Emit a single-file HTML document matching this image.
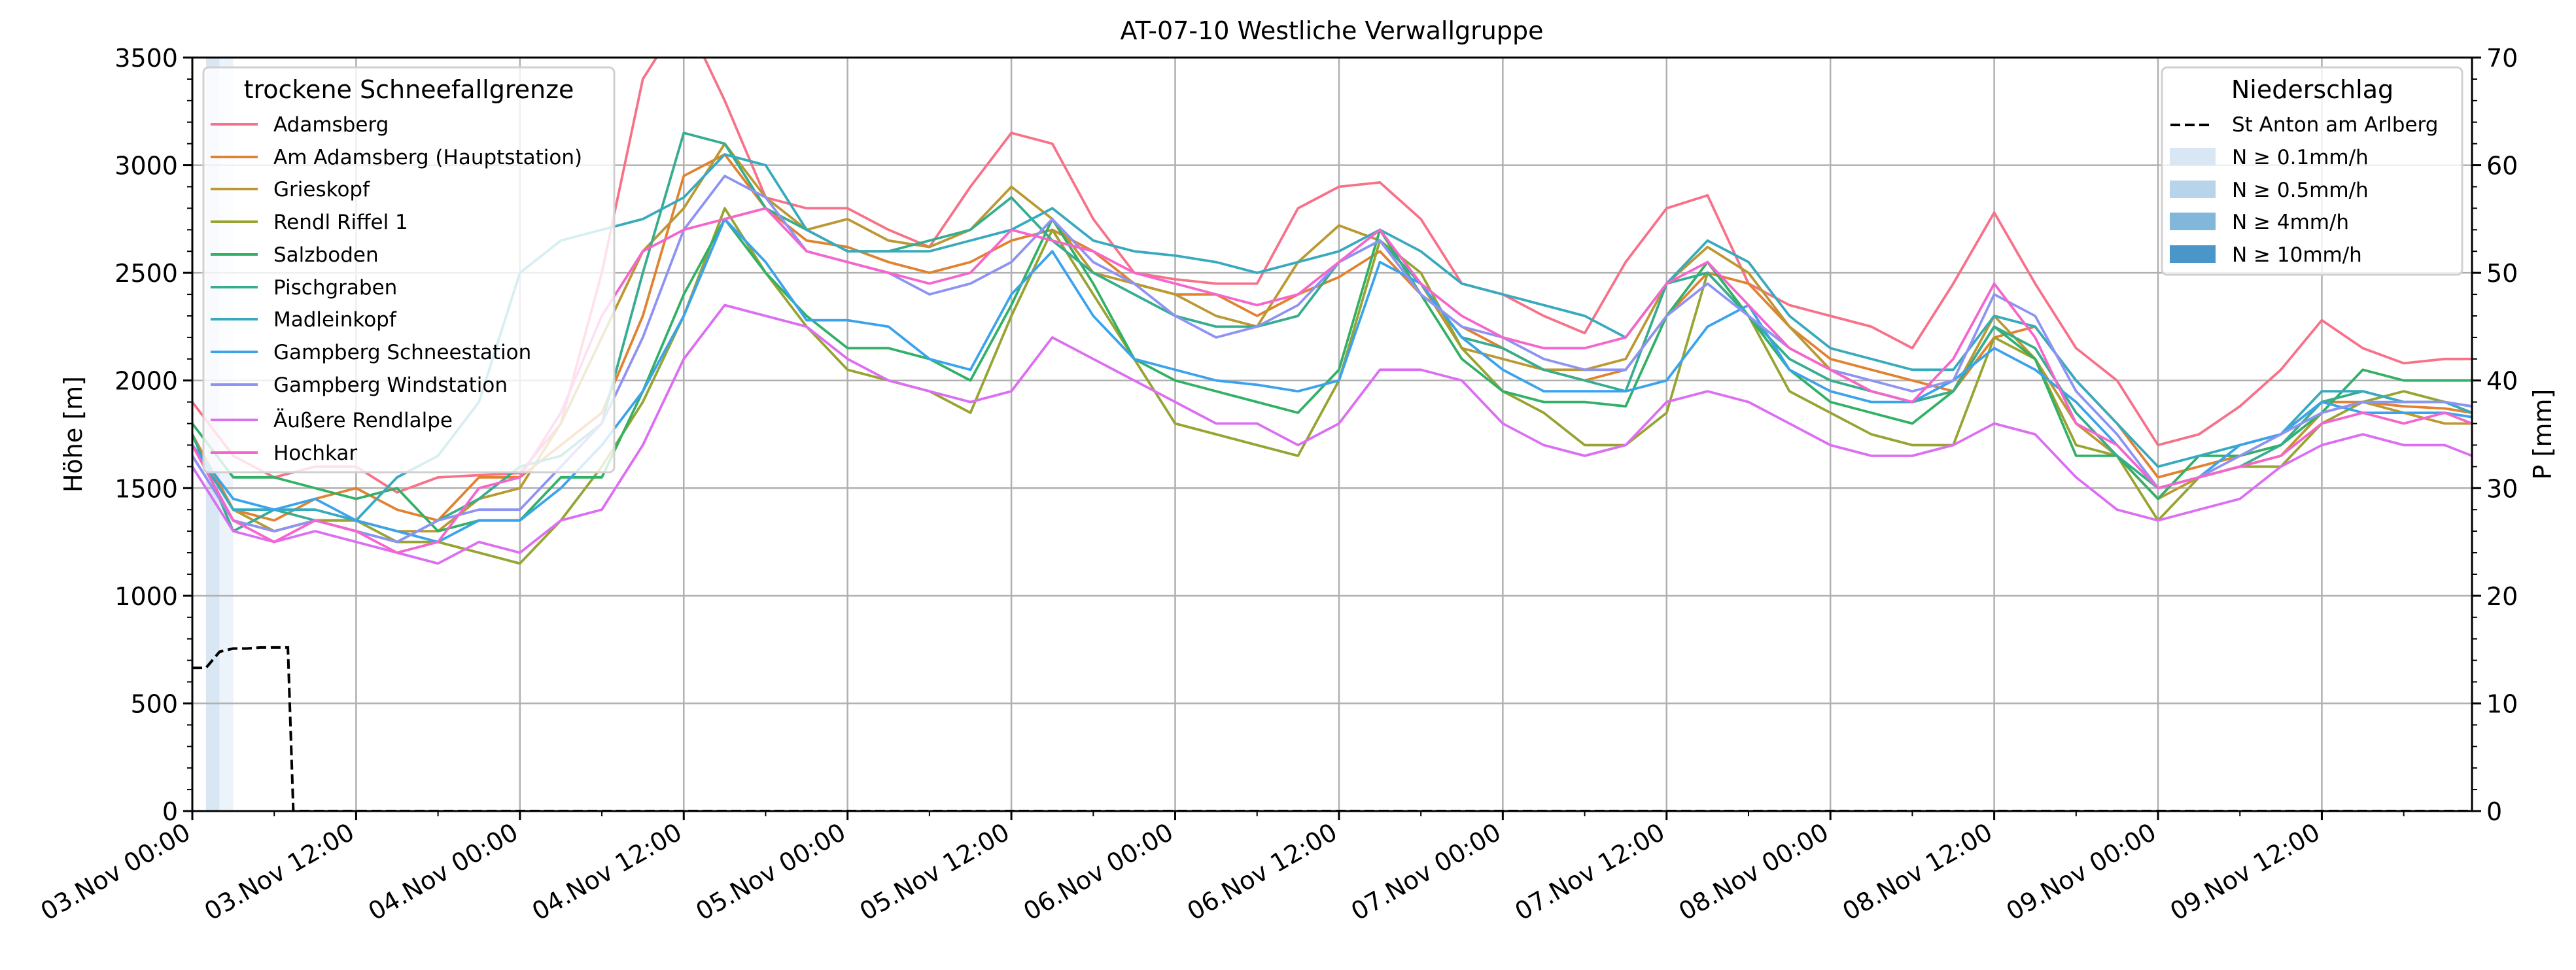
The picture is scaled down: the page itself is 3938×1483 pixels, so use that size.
<!DOCTYPE html>
<html><head><meta charset="utf-8"><style>
html,body{margin:0;padding:0;background:#fff;}
svg text{font-family:"DejaVu Sans","Liberation Sans",sans-serif;}
</style></head><body>
<svg id="chart" width="3938" height="1478" viewBox="0 0 3938 1478" xmlns="http://www.w3.org/2000/svg">
<rect width="3938" height="1478" fill="#fff"/>
<text x="2036" y="60" font-size="38" text-anchor="middle">AT-07-10 Westliche Verwallgruppe</text>
<g id="precip"></g><g id="grid"></g><g id="series"></g><g id="axes"></g><g id="legends"></g>
</svg>
<script>
const times = [0,3,6,9,12,15,18,21,24,27,30,33,36,39,42,45,48,51,54,57,60,63,66,69,72,75,78,81,84,87,90,93,96,99,102,105,108,111,114,117,120,123,126,129,132,135,138,141,144,147,150,153,156,159,162,165,167];
const seriesNames = ["Adamsberg","Am Adamsberg (Hauptstation)","Grieskopf","Rendl Riffel 1","Salzboden","Pischgraben","Madleinkopf","Gampberg Schneestation","Gampberg Windstation","Äußere Rendlalpe","Hochkar"];
const seriesColors = ["#f77189","#e0822f","#bb9832","#97a431","#32b166","#36ad8f","#38aabd","#3ba3ec","#8e93f3","#dc6ef2","#f565cc"];
const adamsberg = [1900,1650,1550,1600,1600,1480,1550,1560,1570, 1800,2500,3400,3700,3300,2850,2800,2800, 2700,2620,2900,3150,3100,2750,2500,2470, 2450,2450,2800,2900,2920,2750,2450,2400, 2300,2220,2550,2800,2860,2450,2350,2300, 2250,2150,2450,2780,2450,2150,2000,1700, 1750,1880,2050,2280,2150,2080,2100,2100];
const amAdamsberg = [1750,1400,1350,1450,1500,1400,1350,1550,1550, 1700,1850,2300,2950,3050,2800,2650,2620, 2550,2500,2550,2650,2700,2600,2450,2400, 2400,2300,2400,2480,2600,2400,2250,2150, 2050,2000,2050,2300,2500,2450,2250,2100, 2050,2000,1950,2200,2250,2000,1800,1550, 1600,1650,1750,1900,1900,1880,1870,1850];
const grieskopf = [1700,1400,1300,1350,1350,1300,1300,1450,1500, 1800,2200,2600,2800,3100,2850,2700,2750, 2650,2620,2700,2900,2750,2500,2450,2400, 2300,2250,2550,2720,2650,2450,2150,2100, 2050,2050,2100,2450,2620,2500,2250,2050, 1950,1900,1950,2300,2100,1800,1650,1450, 1550,1600,1650,1850,1900,1850,1800,1800];
const rendlRiffel = [1650,1350,1300,1350,1350,1250,1250,1200,1150, 1350,1600,1900,2300,2800,2500,2250,2050, 2000,1950,1850,2300,2700,2400,2100,1800, 1750,1700,1650,2000,2650,2500,2150,1950, 1850,1700,1700,1850,2500,2300,1950,1850, 1750,1700,1700,2200,2100,1700,1650,1350, 1550,1600,1600,1800,1900,1950,1900,1850];
const salzboden = [1800,1550,1550,1500,1450,1500,1300,1350,1350, 1550,1550,1950,2400,2750,2500,2300,2150, 2150,2100,2000,2350,2750,2450,2100,2000, 1950,1900,1850,2050,2700,2400,2100,1950, 1900,1900,1880,2300,2550,2300,2050,1900, 1850,1800,1950,2250,2100,1650,1650,1450, 1650,1650,1700,1850,2050,2000,2000,2000];
const pischgraben = [1750,1300,1400,1350,1300,1250,1350,1450,1600, 1650,1800,2500,3150,3100,2800,2700,2600, 2600,2650,2700,2850,2650,2500,2400,2300, 2250,2250,2300,2550,2650,2450,2200,2150, 2050,2000,1950,2450,2500,2300,2100,2000, 1950,1900,1950,2250,2150,1850,1650,1500, 1550,1600,1700,1900,1950,1900,1900,1880];
const madleinkopf = [1700,1400,1400,1400,1350,1550,1650,1900,2500, 2650,2700,2750,2850,3050,3000,2700,2600, 2600,2600,2650,2700,2800,2650,2600,2580, 2550,2500,2550,2600,2700,2600,2450,2400, 2350,2300,2200,2450,2650,2550,2300,2150, 2100,2050,2050,2300,2250,2000,1800,1600, 1650,1700,1750,1950,1950,1900,1900,1850];
const gampbergSchnee = [1700,1450,1400,1450,1350,1300,1250,1350,1350, 1500,1700,1950,2300,2750,2550,2280,2280, 2250,2100,2050,2400,2600,2300,2100,2050, 2000,1980,1950,2000,2550,2450,2200,2050, 1950,1950,1950,2000,2250,2350,2050,1950, 1900,1900,2000,2150,2050,1900,1700,1500, 1550,1700,1750,1900,1850,1850,1850,1830];
const gampbergWind = [1650,1350,1300,1350,1300,1250,1350,1400,1400, 1600,1800,2200,2700,2950,2850,2600,2550, 2500,2400,2450,2550,2750,2550,2450,2300, 2200,2250,2350,2550,2650,2400,2250,2200, 2100,2050,2050,2300,2450,2300,2150,2050, 2000,1950,2000,2400,2300,1950,1750,1500, 1550,1650,1750,1850,1900,1900,1900,1880];
const aeussereRendlalpe = [1600,1300,1250,1300,1250,1200,1150,1250,1200, 1350,1400,1700,2100,2350,2300,2250,2100, 2000,1950,1900,1950,2200,2100,2000,1900, 1800,1800,1700,1800,2050,2050,2000,1800, 1700,1650,1700,1900,1950,1900,1800,1700, 1650,1650,1700,1800,1750,1550,1400,1350, 1400,1450,1600,1700,1750,1700,1700,1650];
const hochkar = [1700,1350,1250,1350,1300,1200,1250,1500,1550, 1850,2300,2600,2700,2750,2800,2600,2550, 2500,2450,2500,2700,2650,2600,2500,2450, 2400,2350,2400,2550,2700,2450,2300,2200, 2150,2150,2200,2450,2550,2350,2150,2050, 1950,1900,2100,2450,2200,1800,1700,1500, 1550,1600,1650,1800,1850,1800,1850,1800];
const precipTimes = [0,1,2,3,4,5,6,7,7.4,167];
const precipValues = [13.3,13.3,14.8,15.1,15.1,15.2,15.2,15.2,0,0];
const rainStart = [1,2];
const rainEnd = [2,3];
const rainColors = ["#d9e7f4","#ecf3fa"];
const xTickHours = [0,12,24,36,48,60,72,84,96,108,120,132,144,156];
const xTickLabels = ["03.Nov 00:00","03.Nov 12:00","04.Nov 00:00","04.Nov 12:00","05.Nov 00:00","05.Nov 12:00","06.Nov 00:00","06.Nov 12:00","07.Nov 00:00","07.Nov 12:00","08.Nov 00:00","08.Nov 12:00","09.Nov 00:00","09.Nov 12:00"];
const yLeftTicks = [0,500,1000,1500,2000,2500,3000,3500];
const yRightTicks = [0,10,20,30,40,50,60,70];

const allSeries = [adamsberg,amAdamsberg,grieskopf,rendlRiffel,salzboden,pischgraben,madleinkopf,gampbergSchnee,gampbergWind,aeussereRendlalpe,hochkar];
const NS="http://www.w3.org/2000/svg";
const X0=294,X1=3779,YT=88,YB=1240,HMAX=167;
const xs=h=>X0+(h/HMAX)*(X1-X0);
const yl=v=>YB-(v/3500)*(YB-YT);
const yr=v=>YB-(v/70)*(YB-YT);
function mk(tag,attrs,parent){const e=document.createElementNS(NS,tag);for(const k in attrs)e.setAttribute(k,attrs[k]);parent.appendChild(e);return e;}
const clipDefs=mk('defs',{},document.getElementById('chart'));
const cp=mk('clipPath',{id:'plotclip'},clipDefs);mk('rect',{x:X0,y:YT,width:X1-X0,height:YB-YT},cp);

const gP=document.getElementById('precip');
rainStart.forEach((s,i)=>{const r=mk('rect',{x:xs(s),y:YT,width:xs(rainEnd[i])-xs(s),height:YB-YT,fill:rainColors[i]},gP);

});

const gG=document.getElementById('grid');
xTickHours.forEach(h=>{const l=mk('line',{x1:xs(h),x2:xs(h),y1:YT,y2:YB,stroke:'#b0b0b0','stroke-width':2.5},gG);

});
yLeftTicks.forEach(v=>{const l=mk('line',{x1:X0,x2:X1,y1:yl(v),y2:yl(v),stroke:'#b0b0b0','stroke-width':2.5},gG);

});

const gS=document.getElementById('series');
gS.setAttribute('clip-path','url(#plotclip)');
allSeries.forEach((arr,si)=>{const pts=arr.map((v,i)=>xs(times[i]).toFixed(1)+','+yl(v).toFixed(1)).join(' ');
const pl=mk('polyline',{points:pts,fill:'none',stroke:seriesColors[si],'stroke-width':3.8,'stroke-linejoin':'round'},gS);

});
const dp=precipTimes.map((t,i)=>xs(t).toFixed(1)+','+yr(precipValues[i]).toFixed(1)).join(' ');
const dl=mk('polyline',{points:dp,fill:'none',stroke:'#000','stroke-width':4,'stroke-dasharray':'15,7'},gS);



const gA=document.getElementById('axes');
mk('rect',{x:X0,y:YT,width:X1-X0,height:YB-YT,fill:'none',stroke:'#000','stroke-width':3},gA);
for(let v=0;v<=3500;v+=100){const maj=v%500===0;mk('line',{x1:X0,x2:X0-(maj?14:8),y1:yl(v),y2:yl(v),stroke:'#000','stroke-width':maj?3:2},gA);}
for(let v=0;v<=70;v+=2){const maj=v%10===0;mk('line',{x1:X1,x2:X1+(maj?14:8),y1:yr(v),y2:yr(v),stroke:'#000','stroke-width':maj?3:2},gA);}
for(let h=0;h<=HMAX;h+=6){const maj=h%12===0;mk('line',{x1:xs(h),x2:xs(h),y1:YB,y2:YB+(maj?14:8),stroke:'#000','stroke-width':maj?3:2},gA);}
yLeftTicks.forEach(v=>{const t=mk('text',{x:X0-22,y:yl(v)+14,'font-size':38,'text-anchor':'end'},gA);t.textContent=v;

});
yRightTicks.forEach(v=>{const t=mk('text',{x:X1+22,y:yr(v)+14,'font-size':38,'text-anchor':'start'},gA);t.textContent=v;

});
xTickHours.forEach((h,i)=>{const x=xs(h),y=YB+40;const t=mk('text',{x:x,y:y,'font-size':38,'text-anchor':'end',transform:`rotate(-30 ${x} ${y})`},gA);t.textContent=xTickLabels[i];

});
const yt=mk('text',{x:125,y:664,'font-size':38,'text-anchor':'middle',transform:'rotate(-90 125 664)'},gA);yt.textContent='Höhe [m]';


const yt2=mk('text',{x:3900,y:664,'font-size':38,'text-anchor':'middle',transform:'rotate(-90 3900 664)'},gA);yt2.textContent='P [mm]';



const gL=document.getElementById('legends');
const l1=mk('g',{},gL);


mk('rect',{x:311,y:103,width:628,height:619,rx:8,fill:'#fff','fill-opacity':0.8,stroke:'#d0d0d0','stroke-width':3},l1);
const lt=mk('text',{x:625,y:150,'font-size':38,'text-anchor':'middle'},l1);lt.textContent='trockene Schneefallgrenze';
const entryY=[190,240,289,339,389,439,488,538,588,642,692];
seriesNames.forEach((n,i)=>{mk('line',{x1:322,x2:394,y1:entryY[i],y2:entryY[i],stroke:seriesColors[i],'stroke-width':4},l1);
const t=mk('text',{x:418,y:entryY[i]+11,'font-size':31},l1);t.textContent=n;

});
const l2=mk('g',{},gL);


mk('rect',{x:3305,y:103,width:459,height:317,rx:8,fill:'#fff','fill-opacity':0.8,stroke:'#d0d0d0','stroke-width':3},l2);
const lt2=mk('text',{x:3535,y:150,'font-size':38,'text-anchor':'middle'},l2);lt2.textContent='Niederschlag';
mk('line',{x1:3318,x2:3378,y1:191,y2:191,stroke:'#000','stroke-width':4,'stroke-dasharray':'15,7'},l2);
const st=mk('text',{x:3412,y:201,'font-size':31},l2);st.textContent='St Anton am Arlberg';


const pLab=["N ≥ 0.1mm/h","N ≥ 0.5mm/h","N ≥ 4mm/h","N ≥ 10mm/h"];
const pCol=["#d9e7f4","#b8d4ea","#81b7d9","#4a96c8"];
const pY=[240,290,339,389];
pLab.forEach((n,i)=>{mk('rect',{x:3317,y:pY[i]-14,width:70,height:27,fill:pCol[i]},l2);
const t=mk('text',{x:3412,y:pY[i]+11,'font-size':31},l2);t.textContent=n;

});
</script>
</body></html>
